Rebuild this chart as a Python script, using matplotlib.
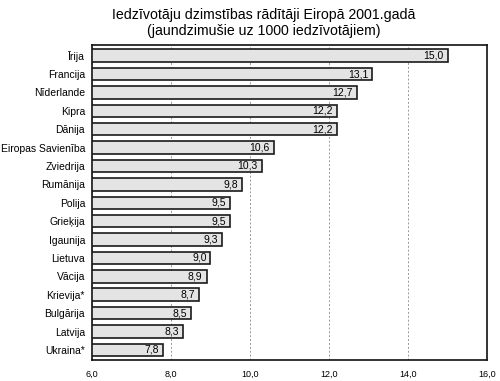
import matplotlib
matplotlib.use("Agg")
import matplotlib.pyplot as plt

countries = ["Īrija", "Francija", "Nīderlande", "Kipra", "Dānija", "Eiropas Savienība",
             "Zviedrija", "Rumānija", "Polija", "Grieķija", "Igaunija", "Lietuva",
             "Vācija", "Krievija*", "Bulgārija", "Latvija", "Ukraina*"]
values = [15.0, 13.1, 12.7, 12.2, 12.2, 10.6, 10.3, 9.8, 9.5, 9.5, 9.3, 9.0,
          8.9, 8.7, 8.5, 8.3, 7.8]
ticks = [6.0, 8.0, 10.0, 12.0, 14.0, 16.0]

plt.rcParams["font.family"] = ["Liberation Sans", "DejaVu Sans"]

fig = plt.figure(figsize=(5.0, 3.81), dpi=100)
ax = fig.add_axes([0.184, 0.055, 0.79, 0.828])

ypos = list(range(len(countries)))
ax.barh(ypos, [v - ticks[0] for v in values], left=ticks[0], height=0.68,
        color="#e4e4e4", edgecolor="#1a1a1a", linewidth=1.2, zorder=3)

for y, v in zip(ypos, values):
    ax.text(v - 0.1, y, f"{v:.1f}".replace(".", ","), ha="right", va="center",
            fontsize=7.5, zorder=4)

ax.set_xlim(ticks[0], ticks[-1])
ax.set_ylim(len(countries) - 0.45, -0.6)
ax.set_xticks(ticks)
ax.set_xticklabels([f"{t:.1f}".replace(".", ",") for t in ticks], fontsize=6.5)
ax.set_yticks(ypos)
ax.set_yticklabels(countries, fontsize=7.5)
ax.tick_params(axis="y", length=0, pad=5)
ax.tick_params(axis="x", length=0, pad=7)
ax.xaxis.grid(True, linestyle=(0, (2, 2)), color="#999999", linewidth=0.7, zorder=0)
for s in ax.spines.values():
    s.set_linewidth(1.2)
    s.set_color("#111111")

fig.suptitle("Iedzīvotāju dzimstības rādītāji Eiropā 2001.gadā\n(jaundzimušie uz 1000 iedzīvotājiem)",
             fontsize=10.2, x=0.527, y=0.98, linespacing=1.25)

fig.savefig("out.png", dpi=100)
